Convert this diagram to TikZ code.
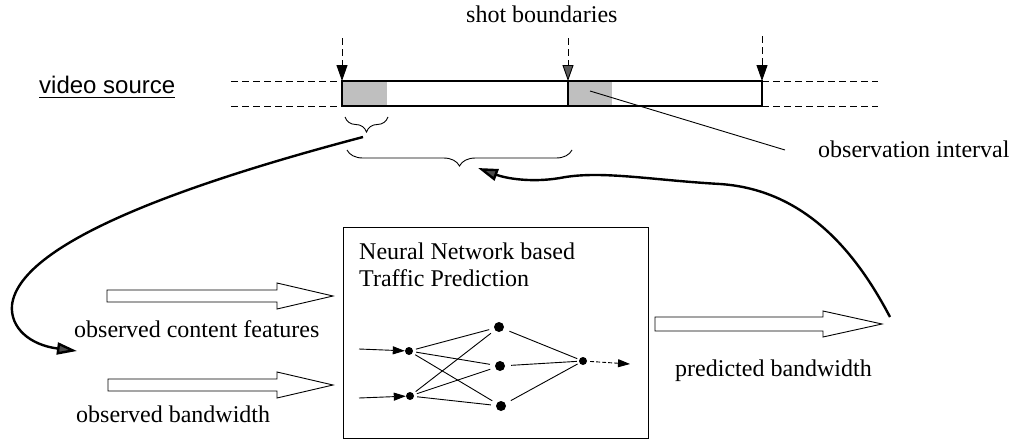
\documentclass[tikz,border=0pt]{standalone}
\usepackage{fontspec}
\setmainfont{Liberation Serif}
\newfontfamily\vsans{Liberation Sans}
\usetikzlibrary{arrows.meta,decorations.pathreplacing}
\begin{document}
\begin{tikzpicture}[x=1pt,y=-1pt,
  lbl/.style={font=\fontsize{24}{26}\selectfont, inner sep=0pt, anchor=base west},
  thinline/.style={line width=0.9pt},
  boxline/.style={line width=1.2pt},
  dashline/.style={line width=0.9pt, dash pattern=on 7pt off 4pt},
  bigcurve/.style={line width=2.4pt, -{Triangle[length=20pt,width=12pt,fill=black!70]}},
  vtip/.style={-{Triangle[length=16pt,width=11pt]}},
  ntip/.style={-{Triangle[length=12pt,width=8pt]}},
  neuron/.style={circle, fill=black, inner sep=0pt},
  hollow/.style={line width=0.9pt, fill=white}
]
\fill[white] (0,0) rectangle (1011,442);
\useasboundingbox (0,0) rectangle (1011,442);

% ---------- video source strip ----------
\node[lbl] (shot) at (466,22) {shot boundaries};
\node[lbl, font=\vsans\fontsize{24}{26}\selectfont] (vs) at (39,93) {video source};
\draw[line width=1pt] ([yshift=-4pt]vs.base west) -- ([yshift=-4pt]vs.base east);

\draw[dashline] (231,81) -- (342,81);
\draw[dashline] (231,106) -- (342,106);
\draw[dashline] (762,81) -- (878,81);
\draw[dashline] (762,106) -- (878,106);

\fill[black!25] (342,81) rectangle (387,106);
\fill[black!25] (568,81) rectangle (612,106);
\draw[boxline] (342,81) rectangle (762,106);
\draw[boxline] (568,81) -- (568,106);

\coordinate (b1) at (342,81);
\coordinate (b2) at (568,81);
\coordinate (b3) at (762,81);
\coordinate (s1) at (342,38);
\coordinate (s2) at (568,38);
\coordinate (s3) at (762,36);
\draw[dashline, vtip] (s1) -- (b1);
\draw[dashline, -{Triangle[length=16pt,width=11pt,fill=black!65]}] (s2) -- (b2);
\draw[dashline, vtip] (s3) -- (b3);

% braces
\draw[thinline, decorate, decoration={brace,mirror,amplitude=15pt}] (345,117) -- (388,117);
\draw[thinline, decorate, decoration={brace,mirror,amplitude=16pt}] (347,150) -- (572,150);

% observation interval
\node[lbl] (oi) at (818,157) {observation interval};
\coordinate (op) at (590,91);
\coordinate (oe) at (785,150);
\draw[thinline] (op) -- (oe);

% ---------- neural network box ----------
\node[draw, boxline, anchor=north west, minimum width=305, minimum height=211, inner sep=0pt] (nn) at (343,227) {};
\node[lbl] (t1) at (359,259) {Neural Network based};
\node[lbl] (t2) at (359,286) {Traffic Prediction};

\node[neuron, minimum size=8pt] (i1) at (409,351) {};
\node[neuron, minimum size=8pt] (i2) at (410,396) {};
\node[neuron, minimum size=10pt] (h1) at (499,327) {};
\node[neuron, minimum size=10pt] (h2) at (500,366) {};
\node[neuron, minimum size=10pt] (h3) at (501,406) {};
\node[neuron, minimum size=8pt] (o) at (583,361) {};

\foreach \a in {i1,i2}
  \foreach \b in {h1,h2,h3}
    \draw[thinline, shorten <=3pt, shorten >=5pt] (\a) -- (\b);
\foreach \b in {h1,h2,h3}
  \draw[thinline, shorten <=6pt, shorten >=2pt] (\b) -- (o);

\coordinate (ia1) at (359,349);
\coordinate (ia2) at (359,398);
\coordinate (oa) at (630,364);
\draw[thinline, ntip] (ia1) -- (i1);
\draw[thinline, ntip] (ia2) -- (i2);
\draw[thinline, dash pattern=on 4pt off 2pt, shorten <=3pt, ntip] (o) -- (oa);

% ---------- hollow arrows ----------
\draw[hollow] (107,290) -- (277,290) -- (277,283) -- (333,296) -- (277,309) -- (277,302) -- (107,302) -- cycle;
\draw[hollow] (108,379) -- (277,379) -- (277,372) -- (333,385) -- (277,398) -- (277,391) -- (108,391) -- cycle;
\draw[hollow] (655,317) -- (823,317) -- (823,311) -- (882,324) -- (823,337) -- (823,331) -- (655,331) -- cycle;

\node[lbl] (ocf) at (74,337) {observed content features};
\node[lbl] (ob) at (76,422) {observed bandwidth};
\node[lbl] (pb) at (675,376) {predicted bandwidth};

% ---------- feedback curves ----------
\coordinate (c1s) at (363,137);
\coordinate (c1e) at (77,351);
\draw[bigcurve] (c1s) .. controls (200,180) and (20,240) .. (12,305) .. controls (10,328) and (30,345) .. (c1e);
\coordinate (c2s) at (890,317);
\coordinate (c2e) at (478,168);
\draw[bigcurve] (c2s) .. controls (860,260) and (810,190) .. (720,184) .. controls (650,180) and (600,170) .. (560,178) .. controls (530,183) and (505,178) .. (c2e);
\end{tikzpicture}
\end{document}
